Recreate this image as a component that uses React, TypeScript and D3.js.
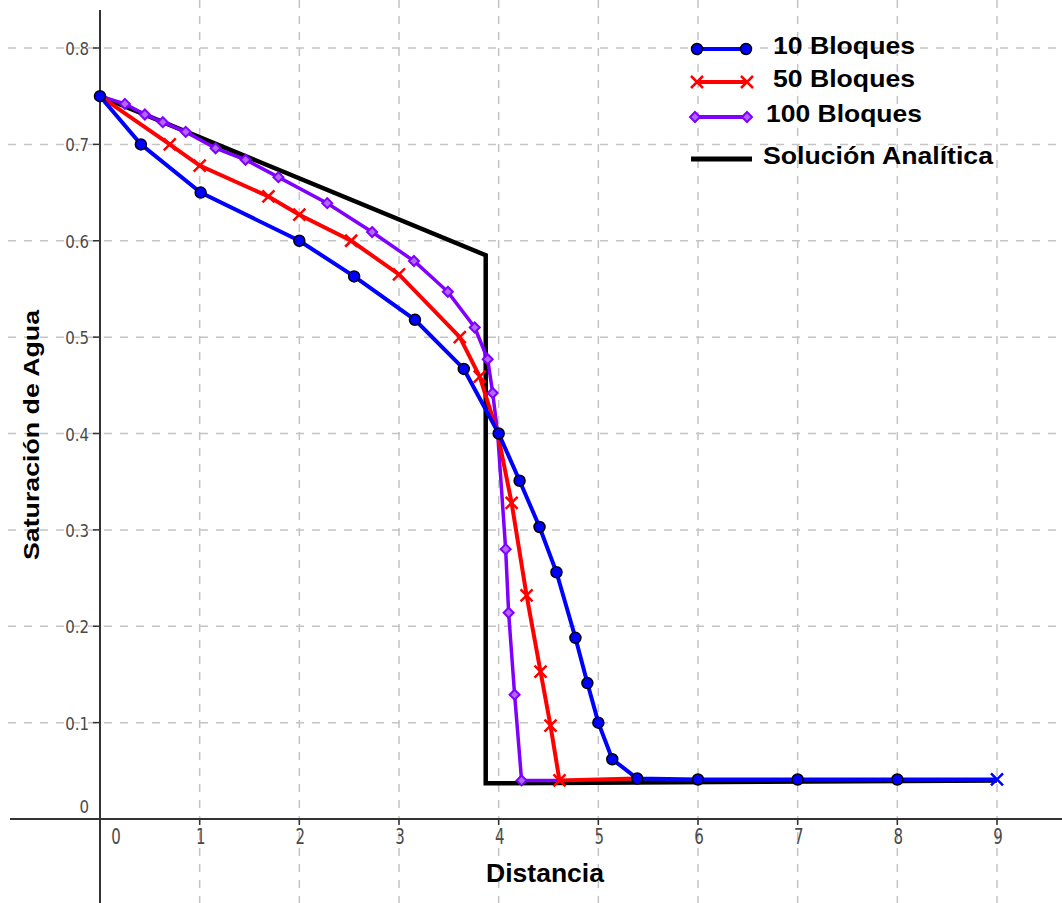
import React, { useEffect, useRef } from "react";
import * as d3 from "d3";

// series
const blueX = [0, 0.41, 1.01, 2.0, 2.55, 3.16, 3.65, 4.0, 4.21, 4.41, 4.58, 4.77, 4.89, 5.0, 5.14, 5.39, 6, 7, 8, 9];
const blueY = [0.75, 0.7, 0.65, 0.6, 0.563, 0.518, 0.467, 0.4, 0.351, 0.303, 0.256, 0.188, 0.141, 0.1, 0.062, 0.042, 0.041, 0.041, 0.041, 0.041];

const redX = [0, 0.7, 1.0, 1.69, 2.0, 2.52, 3.0, 3.61, 3.81, 3.99, 4.13, 4.28, 4.42, 4.52, 4.61, 5.38];
const redY = [0.75, 0.7, 0.678, 0.646, 0.627, 0.6, 0.565, 0.5, 0.459, 0.4, 0.328, 0.232, 0.153, 0.097, 0.04, 0.042];

const purpleX = [0, 0.25, 0.45, 0.63, 0.86, 1.16, 1.46, 1.79, 2.28, 2.73, 3.15, 3.49, 3.76, 3.89, 3.94, 3.99, 4.07, 4.1, 4.16, 4.23, 4.61];
const purpleY = [0.75, 0.742, 0.731, 0.723, 0.713, 0.696, 0.684, 0.666, 0.639, 0.609, 0.579, 0.547, 0.51, 0.477, 0.442, 0.4, 0.28, 0.214, 0.129, 0.04, 0.04];

const anaX = [0, 3.87, 3.87, 9];
const anaY = [0.75, 0.585, 0.037, 0.04];

const xTicks = [0, 1, 2, 3, 4, 5, 6, 7, 8, 9];
const yTicks = [0, 0.1, 0.2, 0.3, 0.4, 0.5, 0.6, 0.7, 0.8];
const legendLabels = ["10 Bloques", "50 Bloques", "100 Bloques", "Solución Analítica"];

const W = 1062;
const H = 903;
const BLUE = "#0000ff";
const RED = "#ff0000";
const PURPLE = "#8000ff";

function App() {
  const ref = useRef<SVGSVGElement>(null);

  useEffect(() => {
    const svg = d3.select(ref.current);
    svg.selectAll("*").remove();

    const x = d3.scaleLinear().domain([0, 9]).range([100, 997]);
    const y = d3.scaleLinear().domain([0, 0.8]).range([819, 48]);

    svg.append("rect").attr("width", W).attr("height", H).attr("fill", "white");

    // dashed grid
    const grid = svg.append("g").attr("stroke", "#c4c4c4").attr("stroke-width", 1.5).attr("stroke-dasharray", "8,8");
    grid
      .selectAll(".vg")
      .data(xTicks.filter((d) => d > 0))
      .join("line")
      .attr("x1", (d) => x(d))
      .attr("x2", (d) => x(d))
      .attr("y1", 0)
      .attr("y2", H);
    grid
      .selectAll(".hg")
      .data(yTicks.filter((d) => d > 0))
      .join("line")
      .attr("x1", 8)
      .attr("x2", W)
      .attr("y1", (d) => y(d))
      .attr("y2", (d) => y(d));

    // axes
    svg.append("line").attr("x1", x(0)).attr("x2", x(0)).attr("y1", 10).attr("y2", H).attr("stroke", "#333").attr("stroke-width", 2);
    svg.append("line").attr("x1", 10).attr("x2", W).attr("y1", y(0)).attr("y2", y(0)).attr("stroke", "#333").attr("stroke-width", 2);

    svg
      .selectAll(".xt")
      .data(xTicks.filter((d) => d > 0))
      .join("line")
      .attr("x1", (d) => x(d))
      .attr("x2", (d) => x(d))
      .attr("y1", y(0))
      .attr("y2", y(0) + 6)
      .attr("stroke", "#333")
      .attr("stroke-width", 1.5);
    svg
      .selectAll(".yt")
      .data(yTicks.filter((d) => d > 0))
      .join("line")
      .attr("x1", x(0) - 7)
      .attr("x2", x(0))
      .attr("y1", (d) => y(d))
      .attr("y2", (d) => y(d))
      .attr("stroke", "#333")
      .attr("stroke-width", 1.5);

    // tick labels (the picture is stretched vertically, so are the digits)
    const tickFont = "'DejaVu Sans', sans-serif";
    svg
      .selectAll(".xl")
      .data(xTicks)
      .join("text")
      .attr("transform", (d) => `translate(${d === 0 ? x(0) + 16 : x(d) + 1},${y(0) + 25}) scale(1,1.42)`)
      .attr("text-anchor", "middle")
      .attr("font-family", tickFont)
      .attr("font-size", 15)
      .attr("fill", "#4a4a4a")
      .text((d) => d);
    svg
      .selectAll(".yl")
      .data(yTicks)
      .join("text")
      .attr("transform", (d) => `translate(89,${d === 0 ? y(0) - 6 : y(d) + 7}) scale(1,1.17)`)
      .attr("text-anchor", "end")
      .attr("font-family", tickFont)
      .attr("font-size", 15)
      .attr("fill", "#4a4a4a")
      .text((d) => (d === 0 ? "0" : d3.format(".1f")(d)));

    // axis titles
    const titleFont = "'Liberation Sans', Arial, sans-serif";
    svg
      .append("text")
      .attr("x", 545)
      .attr("y", 882)
      .attr("text-anchor", "middle")
      .attr("font-family", titleFont)
      .attr("font-weight", "bold")
      .attr("font-size", 26)
      .attr("textLength", 118)
      .attr("lengthAdjust", "spacingAndGlyphs")
      .text("Distancia");
    svg
      .append("text")
      .attr("transform", "translate(39,435) rotate(-90)")
      .attr("text-anchor", "middle")
      .attr("font-family", titleFont)
      .attr("font-weight", "bold")
      .attr("font-size", 22)
      .attr("textLength", 250)
      .attr("lengthAdjust", "spacingAndGlyphs")
      .text("Saturación de Agua");

    const line = d3
      .line<[number, number]>()
      .x((d) => x(d[0]))
      .y((d) => y(d[1]));
    const pts = (xs: number[], ys: number[]) => xs.map((v, i) => [v, ys[i]] as [number, number]);

    const anaPts = pts(anaX, anaY);
    const purplePts = pts(purpleX, purpleY);
    const redPts = pts(redX, redY);
    const bluePts = pts(blueX, blueY);

    svg.append("path").attr("d", line(anaPts)).attr("fill", "none").attr("stroke", "black").attr("stroke-width", 4.5).attr("stroke-linejoin", "miter");

    const diamond = (g: any, cx: number, cy: number) =>
      g
        .append("path")
        .attr("d", `M${cx},${cy - 5}L${cx + 5},${cy}L${cx},${cy + 5}L${cx - 5},${cy}Z`)
        .attr("fill", "#b366ff")
        .attr("stroke", PURPLE)
        .attr("stroke-width", 2);
    const cross = (g: any, cx: number, cy: number, color: string) =>
      g
        .append("path")
        .attr("d", `M${cx - 6},${cy - 6}L${cx + 6},${cy + 6}M${cx - 6},${cy + 6}L${cx + 6},${cy - 6}`)
        .attr("stroke", color)
        .attr("stroke-width", 2.5)
        .attr("fill", "none");
    const circle = (g: any, cx: number, cy: number) =>
      g.append("circle").attr("cx", cx).attr("cy", cy).attr("r", 5.5).attr("fill", BLUE).attr("stroke", "black").attr("stroke-width", 1.5);

    // points that sit under a blue circle show no marker of their own
    const onBlue = (d: [number, number]) => bluePts.some((b) => Math.abs(b[0] - d[0]) < 0.05 && Math.abs(b[1] - d[1]) < 0.01);

    // 100 bloques
    svg.append("path").attr("d", line(purplePts)).attr("fill", "none").attr("stroke", PURPLE).attr("stroke-width", 3.5);
    const gp = svg.append("g");
    purplePts.slice(0, -1).forEach((d) => {
      if (!onBlue(d)) diamond(gp, x(d[0]), y(d[1]));
    });

    // 50 bloques
    svg.append("path").attr("d", line(redPts)).attr("fill", "none").attr("stroke", RED).attr("stroke-width", 4);
    const gr = svg.append("g");
    redPts.forEach((d) => {
      if (!onBlue(d)) cross(gr, x(d[0]), y(d[1]), RED);
    });

    // 10 bloques
    svg.append("path").attr("d", line(bluePts)).attr("fill", "none").attr("stroke", BLUE).attr("stroke-width", 4);
    const gb = svg.append("g");
    bluePts.forEach((d, i) => {
      if (i === bluePts.length - 1) cross(gb, x(d[0]), y(d[1]), BLUE);
      else circle(gb, x(d[0]), y(d[1]));
    });

    // legend
    const lg = svg.append("g");
    const rowY = [49, 82, 117, 159];
    const textX = [773, 773, 766, 763];
    const textLen = [142, 142, 156, 230];
    lg.append("line").attr("x1", 697).attr("x2", 746).attr("y1", rowY[0]).attr("y2", rowY[0]).attr("stroke", BLUE).attr("stroke-width", 4);
    circle(lg, 697, rowY[0]);
    circle(lg, 746, rowY[0]);
    lg.append("line").attr("x1", 697).attr("x2", 747).attr("y1", rowY[1]).attr("y2", rowY[1]).attr("stroke", RED).attr("stroke-width", 4);
    cross(lg, 697, rowY[1], RED);
    cross(lg, 747, rowY[1], RED);
    lg.append("line").attr("x1", 695).attr("x2", 747).attr("y1", rowY[2]).attr("y2", rowY[2]).attr("stroke", PURPLE).attr("stroke-width", 4);
    diamond(lg, 695, rowY[2]);
    diamond(lg, 747, rowY[2]);
    lg.append("line").attr("x1", 691).attr("x2", 752).attr("y1", rowY[3]).attr("y2", rowY[3]).attr("stroke", "black").attr("stroke-width", 5);

    lg.selectAll("text")
      .data(legendLabels)
      .join("text")
      .attr("x", (d, i) => textX[i])
      .attr("y", (d, i) => rowY[i] + 5)
      .attr("font-family", titleFont)
      .attr("font-weight", "bold")
      .attr("font-size", 24)
      .attr("textLength", (d, i) => textLen[i])
      .attr("lengthAdjust", "spacingAndGlyphs")
      .attr("fill", "black")
      .text((d) => d);
  }, []);

  return <svg ref={ref} width={W} height={H} style={{ position: "absolute", left: 0, top: 0, display: "block" }} />;
}

export default App;
